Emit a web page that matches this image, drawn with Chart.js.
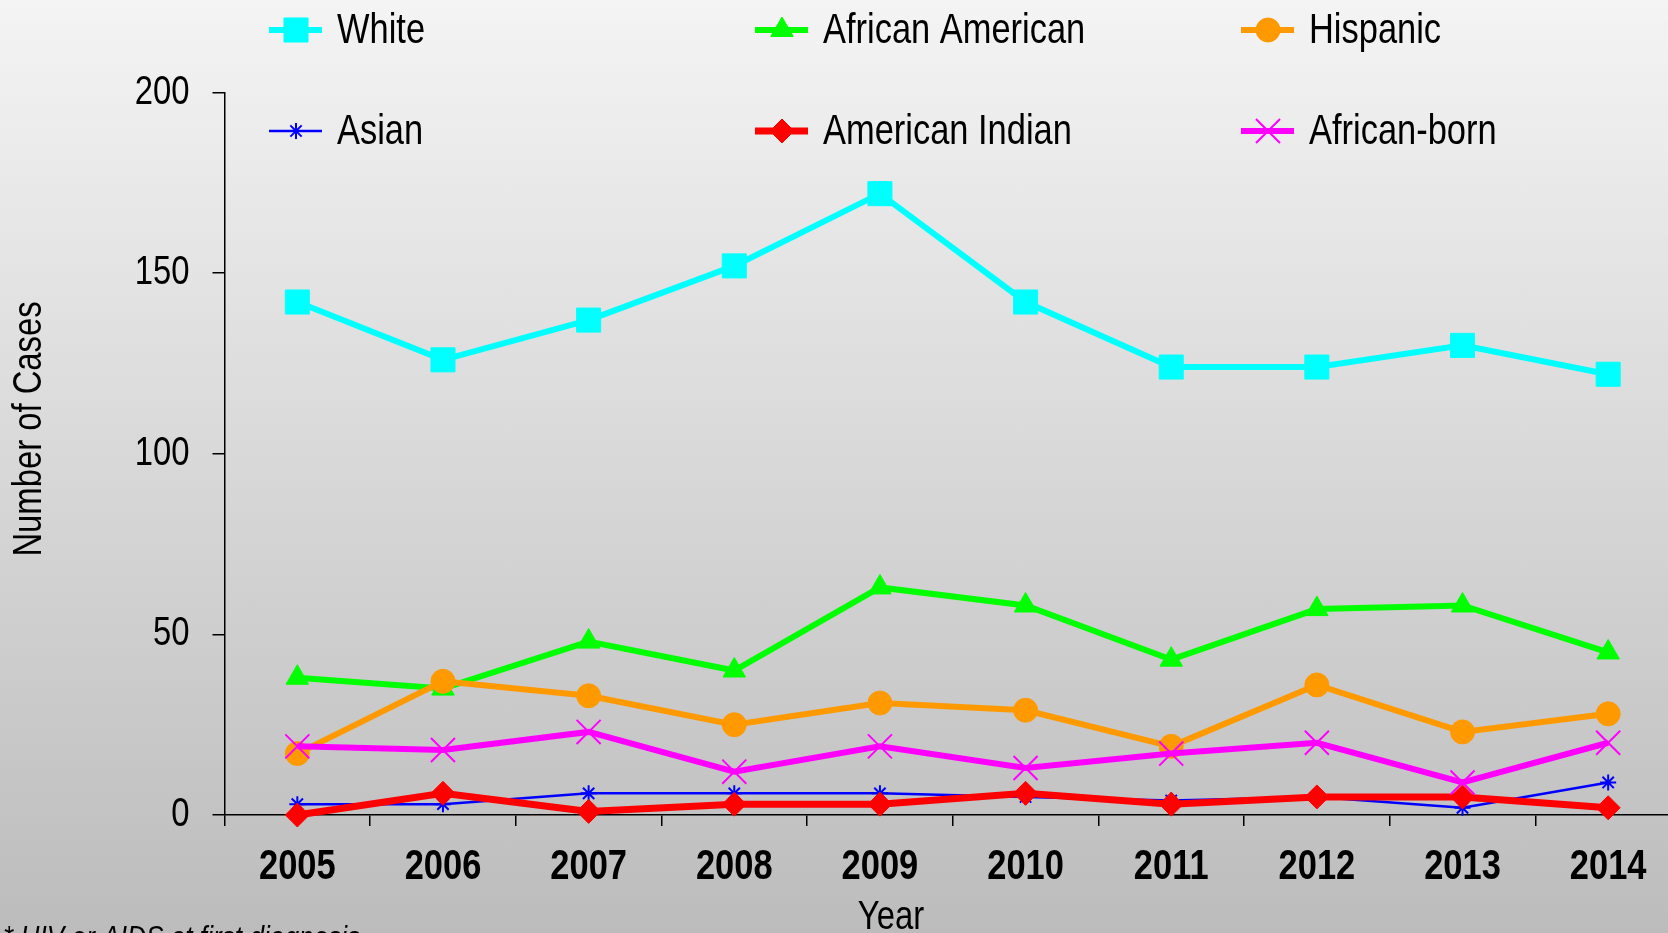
<!DOCTYPE html>
<html>
<head>
<meta charset="utf-8">
<script src="https://cdn.jsdelivr.net/npm/chart.js@4.4.0/dist/chart.umd.min.js"></script>
<style>
  html, body { margin: 0; padding: 0; overflow: hidden; }
  body { width: 1668px; height: 933px; background: linear-gradient(#f4f4f4, #bcbcbc); }
</style>
</head>
<body>
<canvas id="myChart" width="1700" height="933"></canvas>
<script>
var years = ['2005', '2006', '2007', '2008', '2009', '2010', '2011', '2012', '2013', '2014'];
var white = [142, 126, 137, 152, 172, 142, 124, 124, 130, 122];
var africanAmerican = [38, 35, 48, 40, 63, 58, 43, 57, 58, 45];
var hispanic = [17, 37, 33, 25, 31, 29, 19, 36, 23, 28];
var asian = [3, 3, 6, 6, 6, 5, 4, 5, 2, 9];
var americanIndian = [0, 6, 1, 3, 3, 6, 3, 5, 5, 2];
var africanBorn = [19, 18, 23, 12, 19, 13, 17, 20, 9, 20];
var yTicks = [0, 50, 100, 150, 200];

// no Arial Narrow here, so squeeze Liberation Sans sideways
var FONT = "'Liberation Sans', Arial, sans-serif";
var NARROW = 0.82;

function series(label, data, color, style, radius, lineW, markerW, order) {
  return {
    label: label,
    data: data,
    borderColor: color,
    backgroundColor: color,
    borderWidth: lineW,
    pointStyle: style,
    pointRadius: radius,
    pointHoverRadius: radius,
    pointBackgroundColor: color,
    pointBorderColor: color,
    pointBorderWidth: markerW,
    tension: 0,
    clip: false,
    order: order
  };
}

function narrowText(ctx, text, x, y, font, align) {
  ctx.save();
  ctx.translate(x, y);
  ctx.scale(NARROW, 1);
  ctx.font = font;
  ctx.fillStyle = '#000';
  ctx.textAlign = align;
  ctx.textBaseline = 'middle';
  ctx.fillText(text, 0, 0);
  ctx.restore();
}

// legend in two rows of three, overlapping the top of the plot
var legendX = [269, 755, 1241];
var legendY = [30, 131];
var textPlugin = {
  id: 'textPlugin',
  afterDraw: function (chart) {
    var ctx = chart.ctx;
    chart.data.datasets.forEach(function (ds, i) {
      var x = legendX[i % 3], y = legendY[Math.floor(i / 3)];
      ctx.save();
      ctx.strokeStyle = ds.borderColor;
      ctx.lineWidth = ds.borderWidth;
      ctx.beginPath();
      ctx.moveTo(x, y);
      ctx.lineTo(x + 53, y);
      ctx.stroke();
      ctx.fillStyle = ds.pointBackgroundColor;
      ctx.strokeStyle = ds.pointBorderColor;
      ctx.lineWidth = ds.pointBorderWidth;
      Chart.helpers.drawPoint(ctx, {
        pointStyle: ds.pointStyle, radius: ds.pointRadius,
        borderWidth: ds.pointBorderWidth, rotation: 0
      }, x + 27, y);
      ctx.restore();
      narrowText(ctx, ds.label, x + 68, y + 1, '42px ' + FONT, 'left');
    });

    // tick labels, placed by the scales
    var xs = chart.scales.x, ys = chart.scales.y;
    xs.ticks.forEach(function (t, i) {
      narrowText(ctx, chart.data.labels[i], xs.getPixelForTick(i), 867, 'bold 42px ' + FONT, 'center');
    });
    ys.ticks.forEach(function (t) {
      narrowText(ctx, String(t.value), ys.right - 35, ys.getPixelForValue(t.value), '40px ' + FONT, 'right');
    });

    // axis titles and footnote
    narrowText(ctx, 'Year', 891, 918, '40px ' + FONT, 'center');
    ctx.save();
    ctx.translate(30, 429);
    ctx.rotate(-Math.PI / 2);
    ctx.transform(NARROW, 0, 0, 1, 0, 0);
    ctx.font = '40px ' + FONT;
    ctx.fillStyle = '#000';
    ctx.textAlign = 'center';
    ctx.textBaseline = 'middle';
    ctx.fillText('Number of Cases', 0, 0);
    ctx.restore();

    ctx.save();
    ctx.translate(3, 948);
    ctx.scale(NARROW, 1);
    ctx.fillStyle = '#000';
    ctx.font = 'italic 32px ' + FONT;
    ctx.fillText('* HIV or AIDS at first diagnosis', 0, 0);
    ctx.restore();
  }
};

new Chart(document.getElementById('myChart'), {
  type: 'line',
  data: {
    labels: years,
    datasets: [
      series('White', white, '#00ffff', 'rect', 17, 6, 1, 6),
      series('African American', africanAmerican, '#00ff00', 'triangle', 13, 6, 1, 5),
      series('Hispanic', hispanic, '#ff9900', 'circle', 12, 6, 1, 4),
      series('Asian', asian, '#0000ff', 'star', 8, 2.5, 2, 3),
      series('American Indian', americanIndian, '#ff0000', 'rectRot', 12, 7, 1, 2),
      series('African-born', africanBorn, '#ff00ff', 'crossRot', 17, 6, 2, 1)
    ]
  },
  options: {
    responsive: false,
    devicePixelRatio: 1,
    animation: false,
    layout: { padding: { top: 92.5, right: 19, left: 0, bottom: 0 } },
    plugins: { legend: { display: false }, tooltip: { enabled: false } },
    scales: {
      x: {
        offset: true,
        grid: { offset: true, drawOnChartArea: false, drawTicks: true, tickLength: 11, color: '#000', lineWidth: 1.5 },
        border: { color: '#000', width: 1.5 },
        ticks: { display: false },
        afterFit: function (scale) { scale.height = 118; }
      },
      y: {
        min: 0,
        max: 200,
        afterBuildTicks: function (scale) { scale.ticks = yTicks.map(function (v) { return { value: v }; }); },
        grid: { drawOnChartArea: false, drawTicks: true, tickLength: 12, color: '#000', lineWidth: 1.5 },
        border: { color: '#000', width: 1.5 },
        ticks: { display: false },
        afterFit: function (scale) { scale.width = 224.5; }
      }
    }
  },
  plugins: [textPlugin]
});
</script>
</body>
</html>
